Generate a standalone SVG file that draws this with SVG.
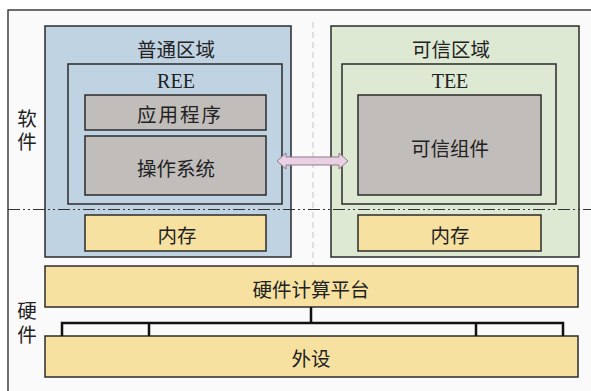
<svg xmlns="http://www.w3.org/2000/svg" width="591" height="391" viewBox="0 0 591 391">
<style>
.box{stroke:#2b2b2b;stroke-width:1.5}
.blue{fill:#c0d3e2}
.green{fill:#dde9d2}
.grey{fill:#c1bdbb}
.yellow{fill:#f6e1a1}
.t{font-family:"Noto Sans CJK SC","Liberation Serif",serif;font-size:19.5px;fill:#222;text-anchor:middle;dominant-baseline:central}
.v{font-family:"Noto Sans CJK SC","Liberation Serif",serif;font-size:19.5px;fill:#222;text-anchor:middle;writing-mode:vertical-rl}
.l{font-family:"Liberation Serif",serif;font-size:20px;fill:#222;text-anchor:middle;dominant-baseline:central}
.bus{stroke:#111;stroke-width:2.5;fill:none}
</style>
<rect x="0" y="0" width="591" height="391" fill="#ffffff"/>
<rect x="8" y="10" width="590" height="390" fill="#fafafa" stroke="#222" stroke-width="1.3"/>
<line x1="313" y1="22" x2="313" y2="265" stroke="#cfcfcf" stroke-width="1.2" stroke-dasharray="6 4"/>
<g id="normal-zone">
<rect class="box blue" x="45" y="26" width="246" height="231"/>
<text class="t" x="176" y="48">普通区域</text>
</g>
<g id="ree">
<rect class="box blue" x="68" y="64" width="214" height="140"/>
<text class="l" x="176" y="81">REE</text>
</g>
<g id="app">
<rect class="box grey" x="85" y="95" width="181" height="35"/>
<text class="t" x="180" y="113" letter-spacing="2">应用程序</text>
</g>
<g id="os">
<rect class="box grey" x="85" y="136" width="181" height="59"/>
<text class="t" x="176" y="167">操作系统</text>
</g>
<g id="mem-left">
<rect class="box yellow" x="85" y="215" width="181" height="36"/>
<text class="t" x="177" y="234">内存</text>
</g>
<g id="trusted-zone">
<rect class="box green" x="331" y="26" width="248" height="231"/>
<text class="t" x="451" y="48">可信区域</text>
</g>
<g id="tee">
<rect class="box green" x="342" y="64" width="214" height="140"/>
<text class="l" x="450" y="81">TEE</text>
</g>
<g id="trusted-comp">
<rect class="box grey" x="358" y="95" width="183" height="100"/>
<text class="t" x="450" y="147">可信组件</text>
</g>
<g id="mem-right">
<rect class="box yellow" x="358" y="215" width="183" height="36"/>
<text class="t" x="450" y="234">内存</text>
</g>
<g id="platform">
<rect class="box yellow" x="45" y="266" width="533" height="41"/>
<text class="t" x="311" y="288">硬件计算平台</text>
</g>
<g id="peripheral">
<rect class="box yellow" x="45" y="336" width="533" height="41"/>
<text class="t" x="311" y="357">外设</text>
</g>
<g id="labels">
<text class="v" x="27" y="132" letter-spacing="4">软件</text>
<text class="v" x="27" y="325" letter-spacing="5">硬件</text>
</g>
<g id="connectors">
<line x1="8" y1="209.5" x2="591" y2="209.5" stroke="#333" stroke-width="1.2" stroke-dasharray="12 3 2 3 2 3"/>
<polyline class="bus" points="62,336 62,323 563,323 563,336"/>
<line class="bus" x1="149" y1="323" x2="149" y2="336"/>
<line class="bus" x1="476" y1="323" x2="476" y2="336"/>
<line class="bus" x1="311" y1="307" x2="311" y2="323"/>
<polygon points="277,161 286,153 286,157 339,157 339,153 348,161 339,169 339,165 286,165 286,169" fill="#ebcfe3" stroke="#8d7d8d" stroke-width="1"/>
</g>
</svg>
